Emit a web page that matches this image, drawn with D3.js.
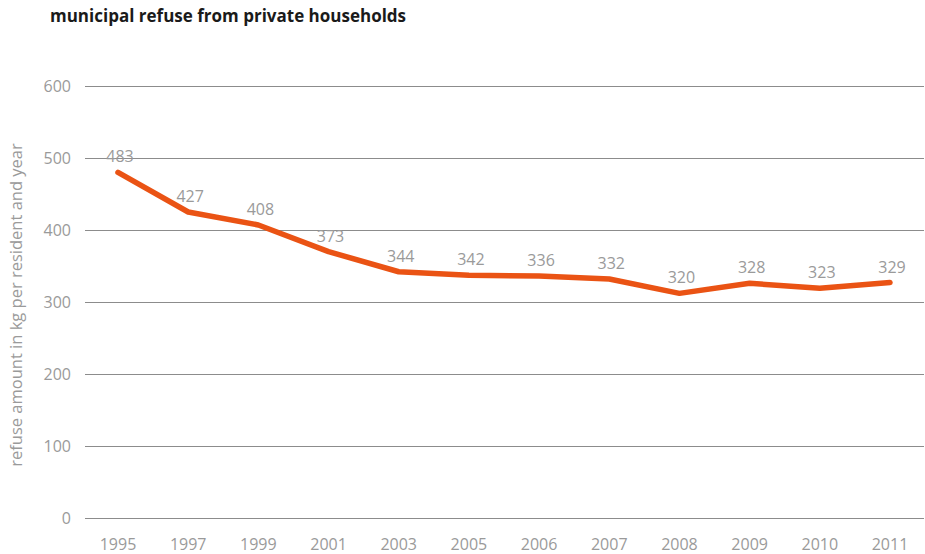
<!DOCTYPE html>
<html>
<head>
<meta charset="utf-8">
<script src="https://cdn.jsdelivr.net/npm/d3@7"></script>
<style>
  html, body { margin: 0; padding: 0; background: #fff; }
  svg { display: block; }
  text { font-family: "Open Sans", "Noto Sans", sans-serif; }
</style>
</head>
<body>
<svg id="chart" width="925" height="554"></svg>
<script>
const title = "municipal refuse from private households";
const yAxisTitle = "refuse amount in kg per resident and year";
const years = ["1995","1997","1999","2001","2003","2005","2006","2007","2008","2009","2010","2011"];
const values = [480, 425, 407, 370, 342, 337, 336, 332, 312, 326, 319, 327];
const valueLabels = ["483","427","408","373","344","342","336","332","320","328","323","329"];
const yTicks = [0, 100, 200, 300, 400, 500, 600];

const svg = d3.select("#chart");
const gridLeft = 85, gridRight = 924;

const x = d3.scalePoint().domain(years).range([118, 890]);
const y = d3.scaleLinear().domain([0, 600]).range([518, 86]);

// title
svg.append("text")
  .attr("x", 50).attr("y", 22)
  .attr("font-size", 17).attr("font-weight", "bold")
  .attr("fill", "#1a1a1a")
  .text(title);

// gridlines
svg.append("g").selectAll("line").data(yTicks).join("line")
  .attr("x1", gridLeft).attr("x2", gridRight)
  .attr("y1", d => Math.round(y(d)) + 0.5).attr("y2", d => Math.round(y(d)) + 0.5)
  .attr("stroke", "#8c8c8c").attr("stroke-width", 1);

// y tick labels
svg.append("g").selectAll("text").data(yTicks).join("text")
  .attr("x", 71).attr("y", d => y(d))
  .attr("dy", "0.35em")
  .attr("text-anchor", "end")
  .attr("font-size", 16).attr("fill", "#9a9a9a")
  .text(d => d);

// y axis title
svg.append("text")
  .attr("transform", `translate(22, 305) rotate(-90)`)
  .attr("text-anchor", "middle")
  .attr("font-size", 16.5).attr("fill", "#9a9a9a")
  .text(yAxisTitle);

// x labels
svg.append("g").selectAll("text").data(years).join("text")
  .attr("x", d => x(d)).attr("y", 550)
  .attr("text-anchor", "middle")
  .attr("font-size", 16).attr("fill", "#9a9a9a")
  .text(d => d);

// line
const line = d3.line()
  .x((d, i) => x(years[i]))
  .y(d => y(d));

svg.append("path")
  .datum(values)
  .attr("d", line)
  .attr("fill", "none")
  .attr("stroke", "#ea5314")
  .attr("stroke-width", 5.5)
  .attr("stroke-linejoin", "round")
  .attr("stroke-linecap", "round");

// value labels
svg.append("g").selectAll("text").data(values).join("text")
  .attr("x", (d, i) => x(years[i]) + 2)
  .attr("y", d => y(d) - 10)
  .attr("text-anchor", "middle")
  .attr("font-size", 16).attr("fill", "#9a9a9a")
  .text((d, i) => valueLabels[i]);
</script>
</body>
</html>
